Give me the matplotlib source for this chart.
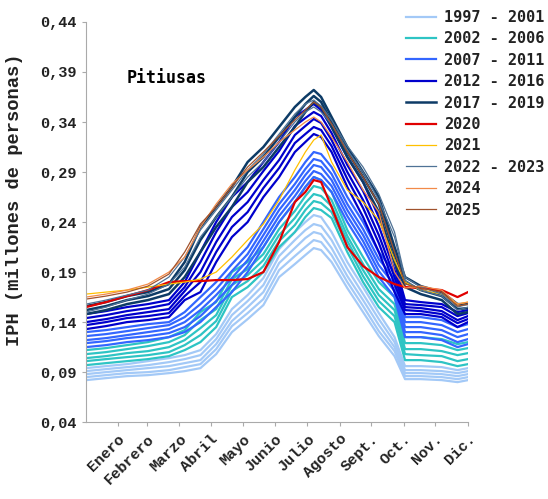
import matplotlib
matplotlib.use("Agg")
import matplotlib.pyplot as plt
from matplotlib.ticker import FuncFormatter

# dias del año en los que se leen los valores
dias = [1, 20, 40, 60, 80, 95, 110, 125, 140, 155, 170, 185, 200,
        210, 218, 225, 235, 250, 265, 280, 295, 305, 320, 340, 355, 365]

# IPH (millones de personas), un renglon por año
g_1997_2001 = [
    [0.082, 0.084, 0.086, 0.087, 0.089, 0.091, 0.094, 0.108, 0.130, 0.143, 0.157, 0.185, 0.198, 0.207, 0.214, 0.212, 0.200, 0.174, 0.150, 0.126, 0.106, 0.083, 0.083, 0.082, 0.080, 0.082],
    [0.085, 0.087, 0.089, 0.090, 0.092, 0.095, 0.098, 0.113, 0.136, 0.149, 0.163, 0.192, 0.206, 0.215, 0.222, 0.220, 0.207, 0.180, 0.156, 0.131, 0.111, 0.086, 0.086, 0.085, 0.083, 0.085],
    [0.088, 0.090, 0.092, 0.094, 0.096, 0.099, 0.102, 0.118, 0.141, 0.155, 0.170, 0.199, 0.214, 0.224, 0.230, 0.228, 0.214, 0.186, 0.162, 0.137, 0.115, 0.089, 0.089, 0.088, 0.086, 0.088],
    [0.091, 0.093, 0.095, 0.097, 0.100, 0.103, 0.107, 0.123, 0.147, 0.161, 0.177, 0.206, 0.222, 0.232, 0.238, 0.236, 0.222, 0.193, 0.168, 0.143, 0.120, 0.092, 0.092, 0.091, 0.089, 0.091],
    [0.094, 0.096, 0.098, 0.101, 0.104, 0.107, 0.112, 0.128, 0.153, 0.167, 0.184, 0.213, 0.230, 0.240, 0.247, 0.245, 0.230, 0.200, 0.175, 0.149, 0.125, 0.096, 0.096, 0.095, 0.092, 0.094],
]
g_2002_2006 = [
    [0.097, 0.099, 0.101, 0.103, 0.106, 0.112, 0.120, 0.135, 0.165, 0.175, 0.190, 0.215, 0.230, 0.245, 0.254, 0.252, 0.244, 0.210, 0.180, 0.155, 0.140, 0.102, 0.102, 0.100, 0.096, 0.098],
    [0.101, 0.103, 0.105, 0.107, 0.110, 0.117, 0.127, 0.141, 0.171, 0.181, 0.196, 0.221, 0.237, 0.252, 0.261, 0.259, 0.250, 0.216, 0.186, 0.161, 0.146, 0.108, 0.107, 0.106, 0.101, 0.103],
    [0.104, 0.106, 0.109, 0.111, 0.115, 0.122, 0.134, 0.147, 0.177, 0.187, 0.202, 0.227, 0.244, 0.259, 0.268, 0.266, 0.256, 0.221, 0.192, 0.167, 0.152, 0.113, 0.113, 0.111, 0.107, 0.109],
    [0.108, 0.110, 0.113, 0.116, 0.120, 0.127, 0.142, 0.153, 0.183, 0.193, 0.208, 0.233, 0.251, 0.266, 0.276, 0.274, 0.262, 0.226, 0.198, 0.173, 0.158, 0.119, 0.119, 0.117, 0.112, 0.114],
    [0.112, 0.114, 0.117, 0.120, 0.125, 0.132, 0.150, 0.160, 0.190, 0.200, 0.215, 0.240, 0.260, 0.275, 0.285, 0.282, 0.270, 0.232, 0.205, 0.180, 0.165, 0.125, 0.125, 0.123, 0.118, 0.120],
]
g_2007_2011 = [
    [0.115, 0.117, 0.120, 0.122, 0.125, 0.130, 0.140, 0.155, 0.170, 0.190, 0.215, 0.240, 0.260, 0.275, 0.285, 0.282, 0.270, 0.240, 0.215, 0.185, 0.165, 0.125, 0.125, 0.122, 0.115, 0.118],
    [0.119, 0.121, 0.124, 0.126, 0.129, 0.135, 0.146, 0.161, 0.177, 0.196, 0.221, 0.246, 0.266, 0.281, 0.291, 0.288, 0.276, 0.246, 0.221, 0.191, 0.171, 0.130, 0.130, 0.127, 0.120, 0.123],
    [0.122, 0.124, 0.127, 0.130, 0.133, 0.140, 0.152, 0.167, 0.184, 0.202, 0.227, 0.252, 0.272, 0.287, 0.297, 0.295, 0.282, 0.252, 0.227, 0.197, 0.177, 0.135, 0.135, 0.132, 0.125, 0.128],
    [0.126, 0.128, 0.131, 0.134, 0.137, 0.145, 0.158, 0.173, 0.191, 0.208, 0.233, 0.258, 0.278, 0.293, 0.303, 0.301, 0.288, 0.258, 0.233, 0.203, 0.183, 0.140, 0.140, 0.137, 0.130, 0.133],
    [0.130, 0.132, 0.135, 0.138, 0.140, 0.150, 0.165, 0.180, 0.198, 0.215, 0.240, 0.265, 0.285, 0.300, 0.310, 0.308, 0.295, 0.265, 0.240, 0.210, 0.190, 0.145, 0.145, 0.142, 0.135, 0.138],
]
g_2012_2016 = [
    [0.133, 0.136, 0.140, 0.142, 0.145, 0.162, 0.170, 0.200, 0.225, 0.240, 0.265, 0.285, 0.310, 0.320, 0.328, 0.325, 0.310, 0.275, 0.245, 0.210, 0.170, 0.148, 0.148, 0.145, 0.135, 0.140],
    [0.137, 0.140, 0.144, 0.146, 0.149, 0.166, 0.180, 0.210, 0.235, 0.250, 0.274, 0.294, 0.319, 0.328, 0.335, 0.332, 0.316, 0.283, 0.254, 0.219, 0.178, 0.152, 0.151, 0.148, 0.139, 0.143],
    [0.140, 0.143, 0.147, 0.150, 0.153, 0.171, 0.190, 0.220, 0.245, 0.260, 0.282, 0.302, 0.327, 0.336, 0.343, 0.339, 0.322, 0.290, 0.262, 0.227, 0.185, 0.155, 0.154, 0.151, 0.142, 0.146],
    [0.144, 0.147, 0.151, 0.154, 0.158, 0.175, 0.200, 0.230, 0.255, 0.270, 0.291, 0.311, 0.336, 0.344, 0.350, 0.346, 0.329, 0.297, 0.271, 0.236, 0.192, 0.158, 0.157, 0.155, 0.146, 0.149],
    [0.148, 0.151, 0.155, 0.158, 0.162, 0.180, 0.210, 0.240, 0.265, 0.280, 0.300, 0.320, 0.345, 0.352, 0.358, 0.352, 0.335, 0.305, 0.280, 0.245, 0.200, 0.162, 0.160, 0.158, 0.150, 0.152],
]
g_2017_2019 = [
    [0.148, 0.152, 0.158, 0.162, 0.168, 0.185, 0.210, 0.235, 0.255, 0.280, 0.295, 0.315, 0.335, 0.350, 0.360, 0.355, 0.335, 0.305, 0.280, 0.250, 0.200, 0.175, 0.168, 0.162, 0.148, 0.150],
    [0.152, 0.156, 0.162, 0.166, 0.173, 0.192, 0.222, 0.245, 0.265, 0.290, 0.305, 0.325, 0.345, 0.358, 0.366, 0.360, 0.340, 0.310, 0.285, 0.258, 0.208, 0.180, 0.172, 0.166, 0.153, 0.154],
    [0.156, 0.160, 0.166, 0.170, 0.178, 0.200, 0.235, 0.255, 0.275, 0.300, 0.315, 0.335, 0.355, 0.365, 0.372, 0.365, 0.345, 0.315, 0.290, 0.265, 0.215, 0.185, 0.176, 0.170, 0.158, 0.158],
]
g_2020 = [
    [0.155, 0.160, 0.166, 0.172, 0.180, 0.181, 0.181, 0.182, 0.182, 0.183, 0.190, 0.220, 0.260, 0.270, 0.282, 0.280, 0.255, 0.215, 0.196, 0.185, 0.178, 0.175, 0.174, 0.172, 0.165, 0.170],
]
g_2021 = [
    [0.168, 0.170, 0.172, 0.175, 0.178, 0.180, 0.183, 0.190, 0.205, 0.222, 0.238, 0.262, 0.292, 0.310, 0.322, 0.327, 0.300, 0.272, 0.260, 0.242, 0.202, 0.180, 0.172, 0.168, 0.158, 0.160],
]
g_2022_2023 = [
    [0.150, 0.155, 0.162, 0.168, 0.178, 0.195, 0.225, 0.245, 0.265, 0.285, 0.300, 0.320, 0.340, 0.350, 0.355, 0.350, 0.338, 0.312, 0.290, 0.262, 0.225, 0.182, 0.172, 0.166, 0.152, 0.155],
    [0.158, 0.162, 0.167, 0.172, 0.185, 0.205, 0.232, 0.252, 0.272, 0.292, 0.308, 0.328, 0.348, 0.358, 0.362, 0.356, 0.342, 0.316, 0.295, 0.268, 0.230, 0.185, 0.175, 0.168, 0.155, 0.158],
]
g_2024 = [
    [0.165, 0.168, 0.172, 0.178, 0.190, 0.205, 0.235, 0.258, 0.278, 0.292, 0.305, 0.320, 0.332, 0.340, 0.345, 0.340, 0.325, 0.300, 0.272, 0.250, 0.190, 0.174, 0.176, 0.172, 0.158, 0.160],
]
g_2025 = [
    [0.163, 0.166, 0.170, 0.176, 0.188, 0.210, 0.238, 0.255, 0.275, 0.295, 0.310, 0.326, 0.342, 0.352, 0.360, 0.355, 0.338, 0.310, 0.285, 0.258, 0.210, 0.178, 0.174, 0.170, 0.156, 0.158],
]

grupos = [g_1997_2001, g_2002_2006, g_2007_2011, g_2012_2016, g_2017_2019,
          g_2020, g_2021, g_2022_2023, g_2024, g_2025]
etiquetas = ['1997 - 2001', '2002 - 2006', '2007 - 2011', '2012 - 2016',
             '2017 - 2019', '2020', '2021', '2022 - 2023', '2024', '2025']
colores = ['#a3c9f7', '#2ec4c4', '#3366ff', '#0000cc', '#0d3b66',
           '#e00000', '#ffc000', '#4f7296', '#f28a48', '#a0522d']
grosor = [1.6, 1.6, 1.6, 1.6, 1.8, 1.6, 0.9, 0.9, 0.9, 0.9]

meses = ['Enero', 'Febrero', 'Marzo', 'Abril', 'Mayo', 'Junio', 'Julio',
         'Agosto', 'Sept.', 'Oct.', 'Nov.', 'Dic.']
fin_mes = [31, 59, 90, 120, 151, 181, 212, 243, 273, 304, 334, 365]

fig = plt.figure(figsize=(5.48, 4.99), dpi=100)
ax = fig.add_axes([0.157, 0.154, 0.697, 0.802])

for grupo, lab, col, lw in zip(grupos, etiquetas, colores, grosor):
    for i, serie in enumerate(grupo):
        ax.plot(dias, serie, color=col, lw=lw, label=lab if i == 0 else '_nolegend_')

ax.set_xlim(1, 365)
ax.set_ylim(0.04, 0.44)
ax.set_yticks([0.04, 0.09, 0.14, 0.19, 0.24, 0.29, 0.34, 0.39, 0.44])
ax.yaxis.set_major_formatter(FuncFormatter(lambda v, p: f'{v:.2f}'.replace('.', ',')))
ax.set_xticks(fin_mes)
ax.set_xticklabels(meses, rotation=45, ha='right', rotation_mode='anchor')

for s in ['top', 'right']:
    ax.spines[s].set_visible(False)
for s in ['left', 'bottom']:
    ax.spines[s].set_color('#aaaaaa')
ax.tick_params(axis='both', colors='#aaaaaa', labelcolor='#222222', length=3, pad=4)
for t in ax.get_xticklabels() + ax.get_yticklabels():
    t.set_fontfamily('Liberation Mono')
    t.set_fontweight('bold')
    t.set_fontsize(11)

ax.text(0.107, 0.86, 'Pitiusas', transform=ax.transAxes, ha='left', va='center',
        fontfamily='DejaVu Sans Mono', fontweight='bold', fontsize=12)

fig.text(0.027, 0.6, 'IPH (millones de personas)', rotation=90, ha='center', va='center',
         fontfamily='Liberation Mono', fontweight='bold', fontsize=13.5, color='#222222')

leg = fig.legend(loc='upper left', bbox_to_anchor=(0.722, 1.0), frameon=False,
                 prop={'family': 'DejaVu Sans Mono', 'weight': 'bold', 'size': 11},
                 handlelength=2.0, handletextpad=0.5, labelspacing=0.42, borderaxespad=0.25)
for t in leg.get_texts():
    t.set_color('#222222')

fig.savefig('out.png', dpi=100)
